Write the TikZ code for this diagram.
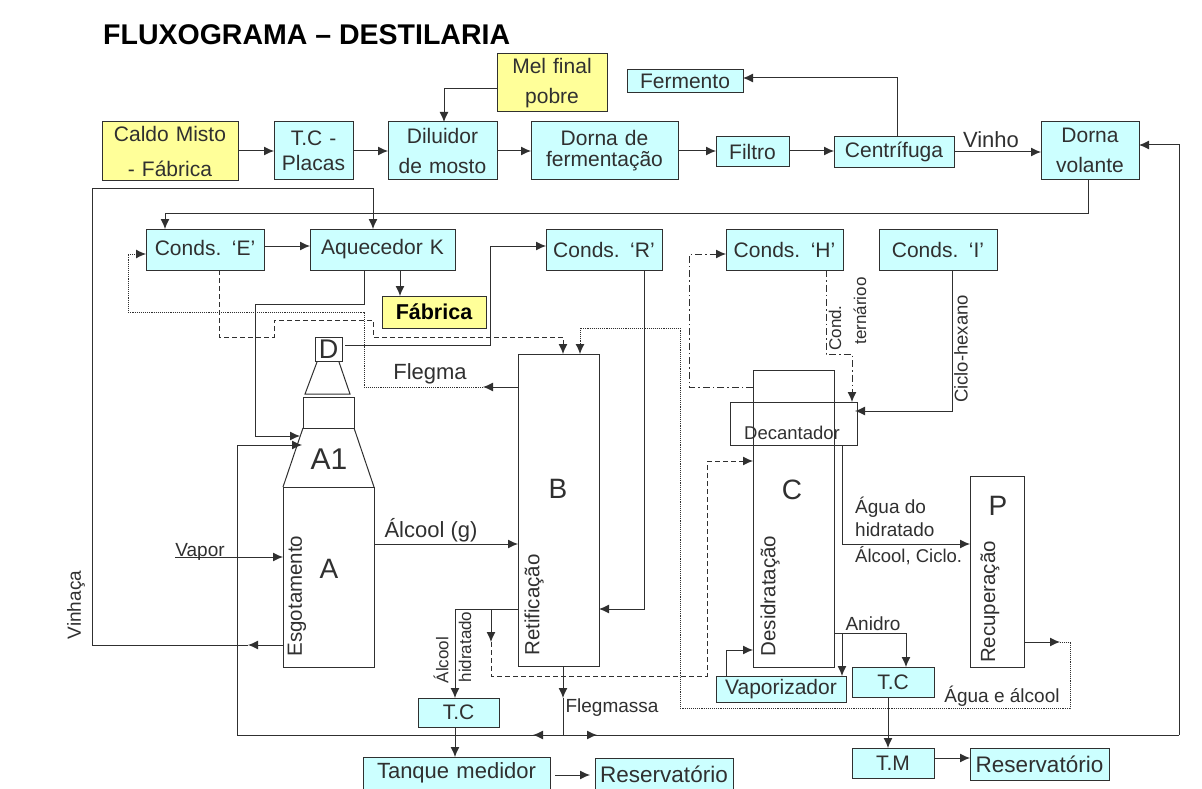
\documentclass[tikz,border=0pt]{standalone}
\usepackage{fontspec}
\setmainfont{Liberation Sans}
\usetikzlibrary{arrows.meta,calc}
\definecolor{boxblue}{HTML}{CCFFFF}
\definecolor{boxyellow}{HTML}{FFFF99}
\definecolor{ink}{HTML}{303030}
\newcommand{\fs}[1]{\fontsize{#1}{#1}\selectfont}
\tikzset{
  x=1pt,y=-1pt,
  base/.style={draw=ink,line width=1pt,inner sep=0pt,outer sep=0pt,text=ink,align=center,font=\fs{21},anchor=north west},
  bluebox/.style={base,fill=boxblue},
  yellowbox/.style={base,fill=boxyellow},
  whitebox/.style={base},
  conn/.style={draw=ink,line width=1pt,-{Latex[length=10pt,width=9pt]}},
  plainconn/.style={draw=ink,line width=1pt},
  dashconn/.style={conn,dash pattern=on 5pt off 3pt},
  dotconn/.style={conn,line width=.9pt,densely dotted},
  dotplain/.style={plainconn,line width=.9pt,densely dotted},
  dashdot/.style={conn,dash pattern=on 7pt off 3pt on 1.5pt off 3pt},
  lbl/.style={text=ink,inner sep=0pt,font=\fs{19}},
  sz/.style 2 args={minimum width=#1pt,minimum height=#2pt,text width=#1pt}
}
\begin{document}
\begin{tikzpicture}
\useasboundingbox (0,0) rectangle (1202,789);
\fill[white] (0,0) rectangle (1202,789);
\node[anchor=west,inner sep=0pt,font=\fs{28.5}\bfseries,text=black] (title) at (103,35) {FLUXOGRAMA – DESTILARIA};
% top row
\node[yellowbox,sz={136}{58}] (caldo) at (102,122) {Caldo Misto\\[14pt]- Fábrica};
\node[bluebox,sz={79}{57}] (tc0) at (274,122) {T.C -\\[4pt]Placas};
\node[bluebox,sz={109}{57}] (dil) at (388,122) {Diluidor\\[9pt]de mosto};
\node[yellowbox,sz={110}{58}] (mel) at (497,54) {Mel final\\[9pt]pobre};
\node[bluebox,sz={116}{23}] (ferm) at (627,70) {Fermento};
\node[bluebox,sz={147}{57}] (dorna) at (531,122) {Dorna de\\fermentação};
\node[bluebox,sz={73}{29}] (filtro) at (716,137) {Filtro};
\node[bluebox,sz={120}{30}] (cent) at (834,137) {Centrífuga};
\node[bluebox,sz={98}{57}] (vol) at (1041,122) {Dorna\\[9pt]volante};
% condensers
\node[bluebox,sz={118}{41}] (ce) at (146,229) {\raisebox{3pt}{Conds. ‘E’}};
\node[bluebox,sz={145}{41}] (aq) at (310,229) {Aquecedor K};
\node[yellowbox,sz={104}{32},font=\fs{21.5}\bfseries,text=black] (fab) at (382,296) {Fábrica};
\node[bluebox,sz={116}{41}] (cr) at (546,229) {Conds. ‘R’};
\node[bluebox,sz={117}{41}] (ch) at (726,229) {Conds. ‘H’};
\node[bluebox,sz={118}{41}] (ci) at (879,229) {Conds. ‘I’};
% column A
\node[whitebox,sz={27}{24},font=\fs{27}] (d) at (315,337) {D};
\draw[plainconn] (317,362) -- (305,394) -- (350,394) -- (339,362);
\node[whitebox,sz={51}{31}] (am) at (303,397) {};
\node[whitebox,sz={91}{180}] (a) at (283,487) {};
\draw[plainconn] (303,428) -- (283,487) (354,428) -- (374,487);
\node[lbl,font=\fs{30}] (a1) at (329,459) {A1};
\node[lbl,font=\fs{28}] (al) at (329,569) {A};
\node[lbl,rotate=90,font=\fs{20.5}] (esg) at (297,596) {Esgotamento};
% column B
\node[whitebox,sz={81}{312}] (b) at (518,354) {};
\node[lbl,font=\fs{28}] (bl) at (558,489) {B};
\node[lbl,rotate=90,font=\fs{20.5}] (ret) at (534,605) {Retificação};
% column C
\node[whitebox,sz={81}{297}] (c) at (753,370) {};
\node[lbl,font=\fs{28}] (cl) at (792,490) {C};
\node[lbl,rotate=90,font=\fs{20.5}] (des) at (770,596) {Desidratação};
\node[whitebox,sz={127}{43},fill=none] (dec) at (730,402) {};
\node[lbl,font=\fs{18.5}] (dect) at (792,433) {Decantador};
% column P
\node[whitebox,sz={54}{191}] (p) at (970,476) {};
\node[lbl,font=\fs{28}] (pl) at (998,506) {P};
\node[lbl,rotate=90,font=\fs{20.5}] (rec) at (990,602) {Recuperação};
% bottom
\node[bluebox,sz={130}{26}] (vap) at (716,676) {Vaporizador};
\node[bluebox,sz={82}{30}] (tc2) at (852,667) {T.C};
\node[bluebox,sz={81}{29}] (tc1) at (418,698) {T.C};
\node[bluebox,sz={187}{40},font=\fs{22}] (tq) at (363,757) {\raisebox{12pt}{Tanque medidor}};
\node[bluebox,sz={138}{40},font=\fs{22.5}] (r1) at (595,758) {\raisebox{8pt}{Reservatório}};
\node[bluebox,sz={82}{30}] (tm) at (852,748) {T.M};
\node[bluebox,sz={139}{32},font=\fs{22.5}] (r2) at (970,748) {Reservatório};
% helper coordinates
\coordinate (ret1) at (237,735);
\coordinate (ret2) at (1179,735);
% top connectors
\draw[conn] (caldo.east |- 0,151) -- (tc0.west |- 0,151);
\draw[conn] (tc0.east |- 0,151) -- (dil.west |- 0,151);
\draw[conn] (dil.east |- 0,151) -- (dorna.west |- 0,151);
\draw[conn] (dorna.east |- 0,151) -- (filtro.west |- 0,151);
\draw[conn] (filtro.east |- 0,151) -- (cent.west |- 0,151);
\draw[conn] (cent.east |- 0,152) -- (vol.west |- 0,152);
\draw[conn] (mel.west |- 0,89) -| (444,122);
\draw[conn] (897,137) |- (ferm.east |- 0,78);
% Dorna volante to E
\draw[conn] (1088,179) |- (165,213) -- (165,229);
% big return line
\draw[plainconn] (ret1) -- (ret2);
\draw[conn] (ret1) -- (237,445) -- (302,445);
\draw[conn] (ret2) -- (1179,145) -- (vol.east |- 0,145);
% vinhaca
\draw[conn] (a.west |- 0,645) -- (248,645);
\draw[conn] (248,645) -- (92,645) -- (92,188) -- (373,188) -- (373,229);
% aquecedor to A1
\draw[conn] (364,270) |- (255,304) |- (300,436);
\draw[conn] (400,270) -- (400,296);
\draw[conn] (ce.east |- 0,246) -- (aq.west |- 0,246);
% flegma
\draw[conn] (b.west |- 0,387) -- (483,387);
\draw[dotconn] (483,387) -- (364,387) -- (364,312) -- (128,312) -- (128,254) -- (ce.west |- 0,254);
% dashed E to B
\draw[dashconn] (219,270) -- (219,337) -- (274,337) -- (274,320) -- (373,320) -- (373,337) -- (563,337) -- (563,354);
% dotted into B
\draw[conn] (p.east |- 0,642) -- (1060,642);
\draw[dotconn] (1060,642) -- (1070,642) -- (1070,708) -- (680,708) -- (680,328) -- (580,328) -- (580,354);
% D to R
\draw[conn] (345,345) -- (490,345) -- (490,246) -- (cr.west |- 0,246);
% R to B
\draw[conn] (644,270) |- (b.east |- 0,609);
% H dash-dot
\draw[dashdot] (c.west |- 0,387) -- (689,387) -- (689,254) -- (ch.west |- 0,254);
\draw[dashdot] (826,270) -- (826,354) -- (852,354) -- (852,402);
% I
\draw[conn] (952,270) |- (855,411);
% decantador to P
\draw[conn] (842,445) |- (p.west |- 0,544);
% A to B, vapor
\draw[conn] (a.east |- 0,544) -- (b.west |- 0,544);
\draw[conn] (175,557) -- (a.west |- 0,557);
% B bottom
\draw[conn] (b.west |- 0,609) -- (455,609) -- (tc1.north -| 455,0);
\draw[conn] (491,609) -- (491,642);
\draw[dashconn,-] (491,642) -- (491,676) -- (707,676) -- (707,461);
\draw[dashconn] (707,461) -- (c.west |- 0,461);
% flegmassa
\draw[conn] (563,666) -- (563,698);
\draw[plainconn] (563,698) -- (563,735);
\draw[conn] (563,735) -- (533,735);
\draw[conn] (563,735) -- (597,735);
% lower
\draw[conn] (455,727) -- (455,757);
\draw[conn] (555,775) -- (590,775);
\draw[conn] (726,676) |- (c.west |- 0,650);
\draw[conn] (834,633) -- (906,633) -- (906,667);
\draw[conn] (842,633) -- (842,676);
\draw[conn] (888,697) -- (888,748);
\draw[conn] (tm.east |- 0,758) -- (r2.west |- 0,758);
% labels
\node[lbl,font=\fs{22}] (vinho) at (991,140) {Vinho};
\node[lbl,font=\fs{22}] (flegma) at (430,374) {Flegma};
\node[lbl,font=\fs{22}] (alc) at (431,530) {Álcool (g)};
\node[lbl] (vapl) at (200,552) {Vapor};
\node[lbl,rotate=90] (vinh) at (76,605) {Vinhaça};
\node[lbl,rotate=90,font=\fs{17}] (al1) at (441,660) {Álcool};
\node[lbl,rotate=90,font=\fs{17}] (al2) at (465,647) {hidratado};
\node[lbl] (flm) at (612,708) {Flegmassa};
\node[lbl,rotate=90,font=\fs{17}] (cnd) at (835,328) {Cond.};
\node[lbl,rotate=90,font=\fs{17}] (ter) at (860,311) {ternárioo};
\node[lbl,rotate=90,font=\fs{18.5}] (cic) at (961,349) {Ciclo-hexano};
\node[lbl,anchor=west,font=\fs{19}] (ag) at (855,507) {Água do};
\node[lbl,anchor=west,font=\fs{19}] (hi) at (855,530) {hidratado};
\node[lbl,anchor=west,font=\fs{18.5}] (ac) at (855,556) {Álcool, Ciclo.};
\node[lbl] (ani) at (873,624) {Anidro};
\node[lbl] (aa) at (1002,696) {Água e álcool};
\end{tikzpicture}
\end{document}
